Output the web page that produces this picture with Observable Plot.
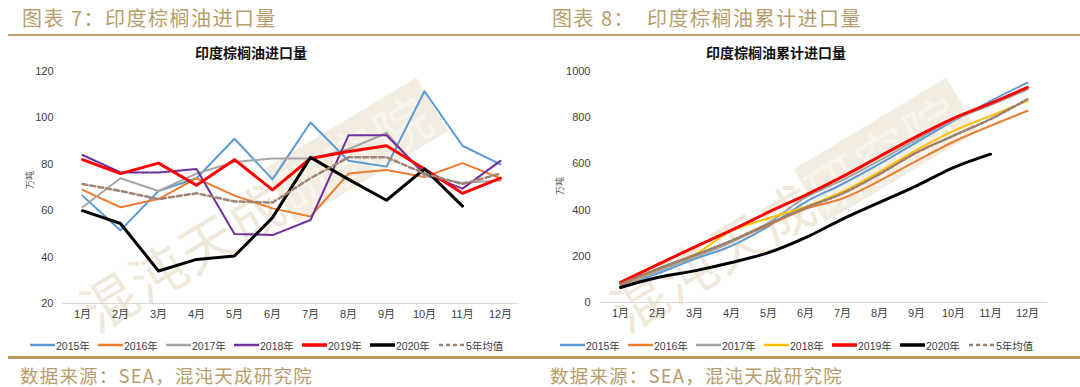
<!DOCTYPE html>
<html><head><meta charset="utf-8">
<script src="https://cdn.jsdelivr.net/npm/d3@7"></script>
<script src="https://cdn.jsdelivr.net/npm/@observablehq/plot@0.6"></script>
<style>
html,body{margin:0;padding:0;background:#fff}
body{width:1080px;height:387px;overflow:hidden;position:relative;font-family:"Noto Sans CJK SC","Liberation Sans",sans-serif}
.panel{position:absolute;top:0;width:540px;height:387px;overflow:hidden}
.hdr{position:absolute;top:5px;font-size:20px;line-height:26px;color:#b89d6c;letter-spacing:1.5px;white-space:pre}
.rule{position:absolute;height:2px;background:#b99c64}
.ttl{position:absolute;top:43px;font-size:14px;line-height:18px;font-weight:bold;color:#111;transform:translateX(-50%);white-space:nowrap}
.plot{position:absolute;top:60px;left:0}
.unit{position:absolute;font-size:9px;color:#595959;transform:translate(-50%,-50%) rotate(-90deg);white-space:nowrap}
.leg{position:absolute;top:337px;height:16px;display:flex;align-items:center;font-family:"Liberation Sans","Noto Sans CJK SC",sans-serif;font-size:10.5px;color:#404040;white-space:nowrap}
.leg svg{margin-right:1px}
.src{position:absolute;top:362px;font-size:18.5px;line-height:26px;color:#b89d6c;letter-spacing:1.2px;white-space:nowrap}
.wmc{position:absolute;height:62px;width:420px;transform-origin:0 100%;transform:rotate(-31deg);pointer-events:none}
.wmbox{position:absolute;left:228px;top:0;width:178px;height:62px;background:#ede5d7;opacity:0.75}
.wm{position:absolute;left:0;top:0;font-size:55px;line-height:62px;color:#f0e8db;white-space:nowrap;letter-spacing:2px}
.wm span.in{color:#f8f4ee}
</style>
</head><body>
<script>
// ---------- data ----------
const months = ["1月","2月","3月","4月","5月","6月","7月","8月","9月","10月","11月","12月"];
const seriesNames = ["2015年","2016年","2017年","2018年","2019年","2020年","5年均值"];

// 图表7 印度棕榈油进口量 (万吨)
const imp2015 = [66.5, 51.5, 68.5, 74, 91, 73.5, 98, 81.5, 79, 111.5, 88, 80];
const imp2016 = [69, 61.5, 65, 74, 66.5, 61, 57.5, 76, 77.5, 74.5, 80.5, 74];
const imp2017 = [61.5, 74, 68.5, 76, 81, 82.5, 82.5, 86.5, 93.5, 75, 72, 73];
const imp2018 = [84, 76.5, 76.5, 78, 50, 49.5, 56, 92.5, 92.5, 76, 69.5, 81.5];
const imp2019 = [82, 76, 80.5, 71, 82, 69, 82.5, 85.5, 88, 78, 67.5, 74];
const imp2020 = [60, 54.5, 34, 39, 40.5, 57, 83, 73.5, 64.5, 78, 62];
const impAvg  = [71.5, 68.5, 65, 67.5, 64, 63.5, 74, 83, 83, 76, 71.5, 76];
const impTicks = [20, 40, 60, 80, 100, 120];

// 图表8 印度棕榈油累计进口量 (万吨)
const cum2015 = [70, 125, 188, 245, 330, 435, 513, 600, 693, 786, 872, 952];
const cum2016 = [75, 140, 200, 265, 335, 405, 450, 527, 613, 696, 765, 830];
const cum2017 = [65, 135, 195, 262, 345, 455, 530, 615, 705, 790, 855, 922];
const cum2018 = [80, 145, 208, 310, 365, 415, 480, 566, 660, 743, 808, 873];
const cum2019 = [87, 164, 240, 313, 391, 465, 545, 632, 718, 797, 862, 931];
const cum2020 = [65, 108, 137, 173, 216, 281, 361, 433, 505, 584, 642];
const cumAvg  = [80, 145, 205, 268, 340, 410, 472, 556, 649, 722, 794, 880];
const cumTicks = [0, 200, 400, 600, 800, 1000];

// ---------- styles ----------
const leftColors  = ["#5b9bd5","#ed7d31","#a5a5a5","#7030a0","#ff0000","#000000","#a08474"];
const rightColors = ["#5b9bd5","#ed7d31","#a5a5a5","#ffc000","#ff0000","#000000","#9c7e6c"];
const widths = [2, 2, 2, 2, 3, 3, 2.5];

function build(arrays){
  const rows = [];
  arrays.forEach((arr, si) => arr.forEach((v, i) => rows.push({series: seriesNames[si], month: months[i], value: v})));
  return rows;
}

function makeChart(arrays, colors, ticks, domain, opts){
  const rows = build(arrays);
  const marks = [
    Plot.ruleY([domain[0]], {stroke: "#d9d9d9", strokeWidth: 1}),
    Plot.axisX({tickSize: 0, tickPadding: 7, fontSize: 11, color: "#404040"}),
    Plot.axisY({ticks, tickSize: 0, tickPadding: opts.yPad, label: null, fontSize: 11, color: "#404040", tickFormat: d => String(d)})
  ];
  seriesNames.forEach((s, si) => {
    const d = rows.filter(r => r.series === s);
    const isAvg = si === 6;
    marks.push(Plot.line(d, {
      x: "month", y: "value",
      stroke: colors[si], strokeWidth: widths[si],
      strokeDasharray: isAvg ? opts.dash : null,
      curve: opts.curve
    }));
  });
  return Plot.plot({
    width: 540, height: 268,
    marginLeft: opts.ml, marginRight: opts.mr, marginTop: 11, marginBottom: opts.mb,
    style: {fontFamily: '"Liberation Sans","Noto Sans CJK SC",sans-serif', fontSize: "11px", color: "#404040", background: "transparent"},
    x: {type: "point", domain: months, padding: 0.5, label: null},
    y: {domain, label: null},
    marks
  });
}

function panel(left, cfg){
  const p = document.createElement("div");
  p.className = "panel";
  p.style.left = left + "px";
  document.body.appendChild(p);

  // watermark
  const wmc = document.createElement("div");
  wmc.className = "wmc";
  wmc.style.left = cfg.wmX + "px";
  wmc.style.top = (cfg.wmY - 62) + "px";
  wmc.innerHTML = `<div class="wmbox"></div><div class="wm">混沌天成<span class="in">研究院</span></div>`;
  p.appendChild(wmc);

  const h = document.createElement("div");
  h.className = "hdr"; h.style.left = cfg.hx + "px"; h.textContent = cfg.header;
  p.appendChild(h);

  const r1 = document.createElement("div");
  r1.className = "rule"; r1.style.top = "34px"; r1.style.left = cfg.rx + "px"; r1.style.width = cfg.rw + "px";
  p.appendChild(r1);

  const t = document.createElement("div");
  t.className = "ttl"; t.style.left = cfg.tx + "px"; t.textContent = cfg.title;
  p.appendChild(t);

  const pl = document.createElement("div");
  pl.className = "plot";
  pl.appendChild(cfg.chart);
  p.appendChild(pl);

  const u = document.createElement("div");
  u.className = "unit"; u.style.left = cfg.ux + "px"; u.style.top = cfg.uy + "px"; u.textContent = "万吨";
  p.appendChild(u);

  seriesNames.forEach((s, si) => {
    const it = document.createElement("div");
    it.className = "leg";
    it.style.left = (cfg.lx + si * 68) + "px";
    const isAvg = si === 6;
    const sw = isAvg
      ? `<svg width="27" height="6"><line x1="1" y1="3" x2="26" y2="3" stroke="${cfg.colors[si]}" stroke-width="2.5" stroke-dasharray="4,3"/></svg>`
      : `<svg width="25" height="6"><line x1="0" y1="3" x2="25" y2="3" stroke="${cfg.colors[si]}" stroke-width="${widths[si] + 0.5}"/></svg>`;
    it.innerHTML = sw + `<span>${isAvg ? " " : ""}${s}</span>`;
    p.appendChild(it);
  });

  const r2 = document.createElement("div");
  r2.className = "rule"; r2.style.top = "356px"; r2.style.height = "3px"; r2.style.left = cfg.rx + "px"; r2.style.width = cfg.rw + "px";
  p.appendChild(r2);

  const src = document.createElement("div");
  src.className = "src"; src.style.left = cfg.sx + "px"; src.textContent = "数据来源：SEA，混沌天成研究院";
  p.appendChild(src);
}

const chart1 = makeChart([imp2015, imp2016, imp2017, imp2018, imp2019, imp2020, impAvg], leftColors, impTicks, [20, 120],
  {ml: 62, mr: 21, mb: 25, yPad: 9, curve: "linear", dash: "5,3"});
const chart2 = makeChart([cum2015, cum2016, cum2017, cum2018, cum2019, cum2020, cumAvg], rightColors, cumTicks, [0, 1000],
  {ml: 60, mr: 33, mb: 26, yPad: 10, curve: "catmull-rom", dash: "3,2"});

panel(0, {header: "图表 7：印度棕榈油进口量", hx: 22, rx: 8, rw: 532, title: "印度棕榈油进口量", tx: 251,
  chart: chart1, ux: 29, uy: 180, lx: 30, sx: 20, colors: leftColors, wmX: 100, wmY: 340});
panel(540, {header: "图表 8：  印度棕榈油累计进口量", hx: 12, rx: 0, rw: 540, title: "印度棕榈油累计进口量", tx: 236,
  chart: chart2, ux: 19, uy: 186, lx: 20, sx: 10, colors: rightColors, wmX: 90, wmY: 340});
</script>
</body></html>
